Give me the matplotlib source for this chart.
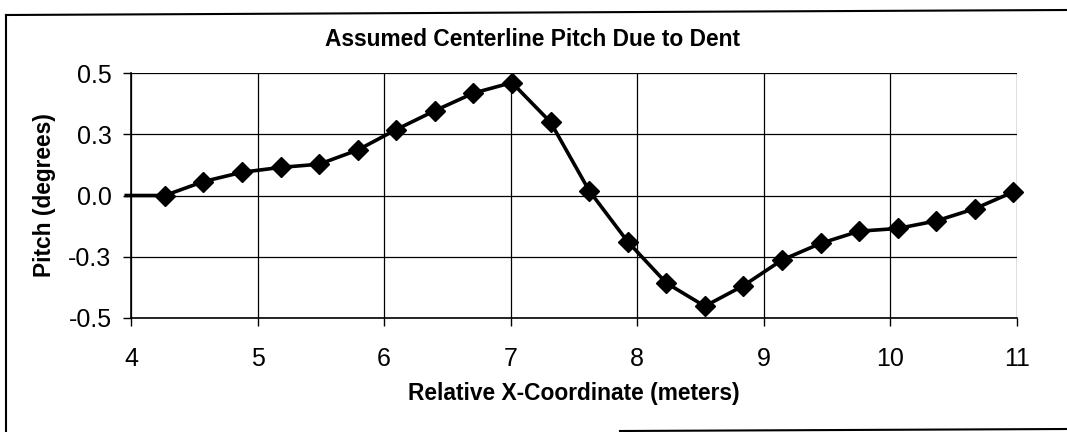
import numpy as np
import matplotlib.pyplot as plt
from matplotlib.lines import Line2D

# station positions (m) - first entry is the lead-in point without a marker
x_m = [3.962, 4.267, 4.572, 4.877, 5.182, 5.486, 5.791, 6.096, 6.401, 6.706,
       7.010, 7.315, 7.620, 7.925, 8.230, 8.534, 8.839, 9.144, 9.449, 9.754,
       10.058, 10.363, 10.668, 10.973]
pitch_deg = [0.0, 0.0, 0.057, 0.095, 0.115, 0.128, 0.186, 0.270, 0.347, 0.419,
             0.462, 0.300, 0.020, -0.189, -0.358, -0.453, -0.369, -0.264, -0.196,
             -0.146, -0.135, -0.104, -0.054, 0.015]

x_ticks = [4, 5, 6, 7, 8, 9, 10, 11]
y_ticks = [-0.5, -0.25, 0.0, 0.25, 0.5]
y_ticklabels = ["-0.5", "-0.3", "0.0", "0.3", "0.5"]

plt.rcParams['font.family'] = ['Liberation Sans', 'DejaVu Sans']

fig = plt.figure(figsize=(10.67, 4.32), dpi=100)
ax = fig.add_axes([0.1228, 0.2646, 0.8302, 0.5657])

ax.plot(x_m, pitch_deg, color='black', lw=2.6, marker='D', ms=10,
        markevery=list(range(1, len(x_m))), clip_on=False, zorder=3)

ax.set_xlim(4, 11)
ax.set_ylim(-0.5, 0.5)
ax.set_xticks(x_ticks)
ax.set_xticklabels([str(t) for t in x_ticks])
ax.set_yticks(y_ticks)
ax.set_yticklabels(y_ticklabels)
ax.tick_params(labelsize=18, length=6, width=1, direction='out')
ax.tick_params(axis='x', pad=15)
ax.tick_params(axis='y', pad=8)
ax.grid(True, color='black', lw=0.9)
ax.set_axisbelow(True)
for s in ['top', 'right']:
    ax.spines[s].set_visible(False)
for s in ['left', 'bottom']:
    ax.spines[s].set_linewidth(1.2)

ax.set_title("Assumed Centerline Pitch Due to Dent", fontsize=16.4,
             fontweight='bold', pad=20, x=0.453)
ax.set_xlabel("Relative X-Coordinate (meters)", fontsize=16.4,
              fontweight='bold', labelpad=8)
ax.set_ylabel("Pitch (degrees)", fontsize=16.4, fontweight='bold', labelpad=9)

# outer chart border (partially visible in the scan)
W, H = 1067, 432
fig.add_artist(Line2D([6 / W, 6 / W], [0, 1 - 15 / H], color='black', lw=1.5))
fig.add_artist(Line2D([6 / W, 1], [1 - 15 / H, 1 - 10 / H], color='black', lw=1.5))
fig.add_artist(Line2D([620 / W, 1], [1 - 431 / H, 1 - 429 / H], color='black', lw=1.5))

fig.savefig("out.png", dpi=100)
